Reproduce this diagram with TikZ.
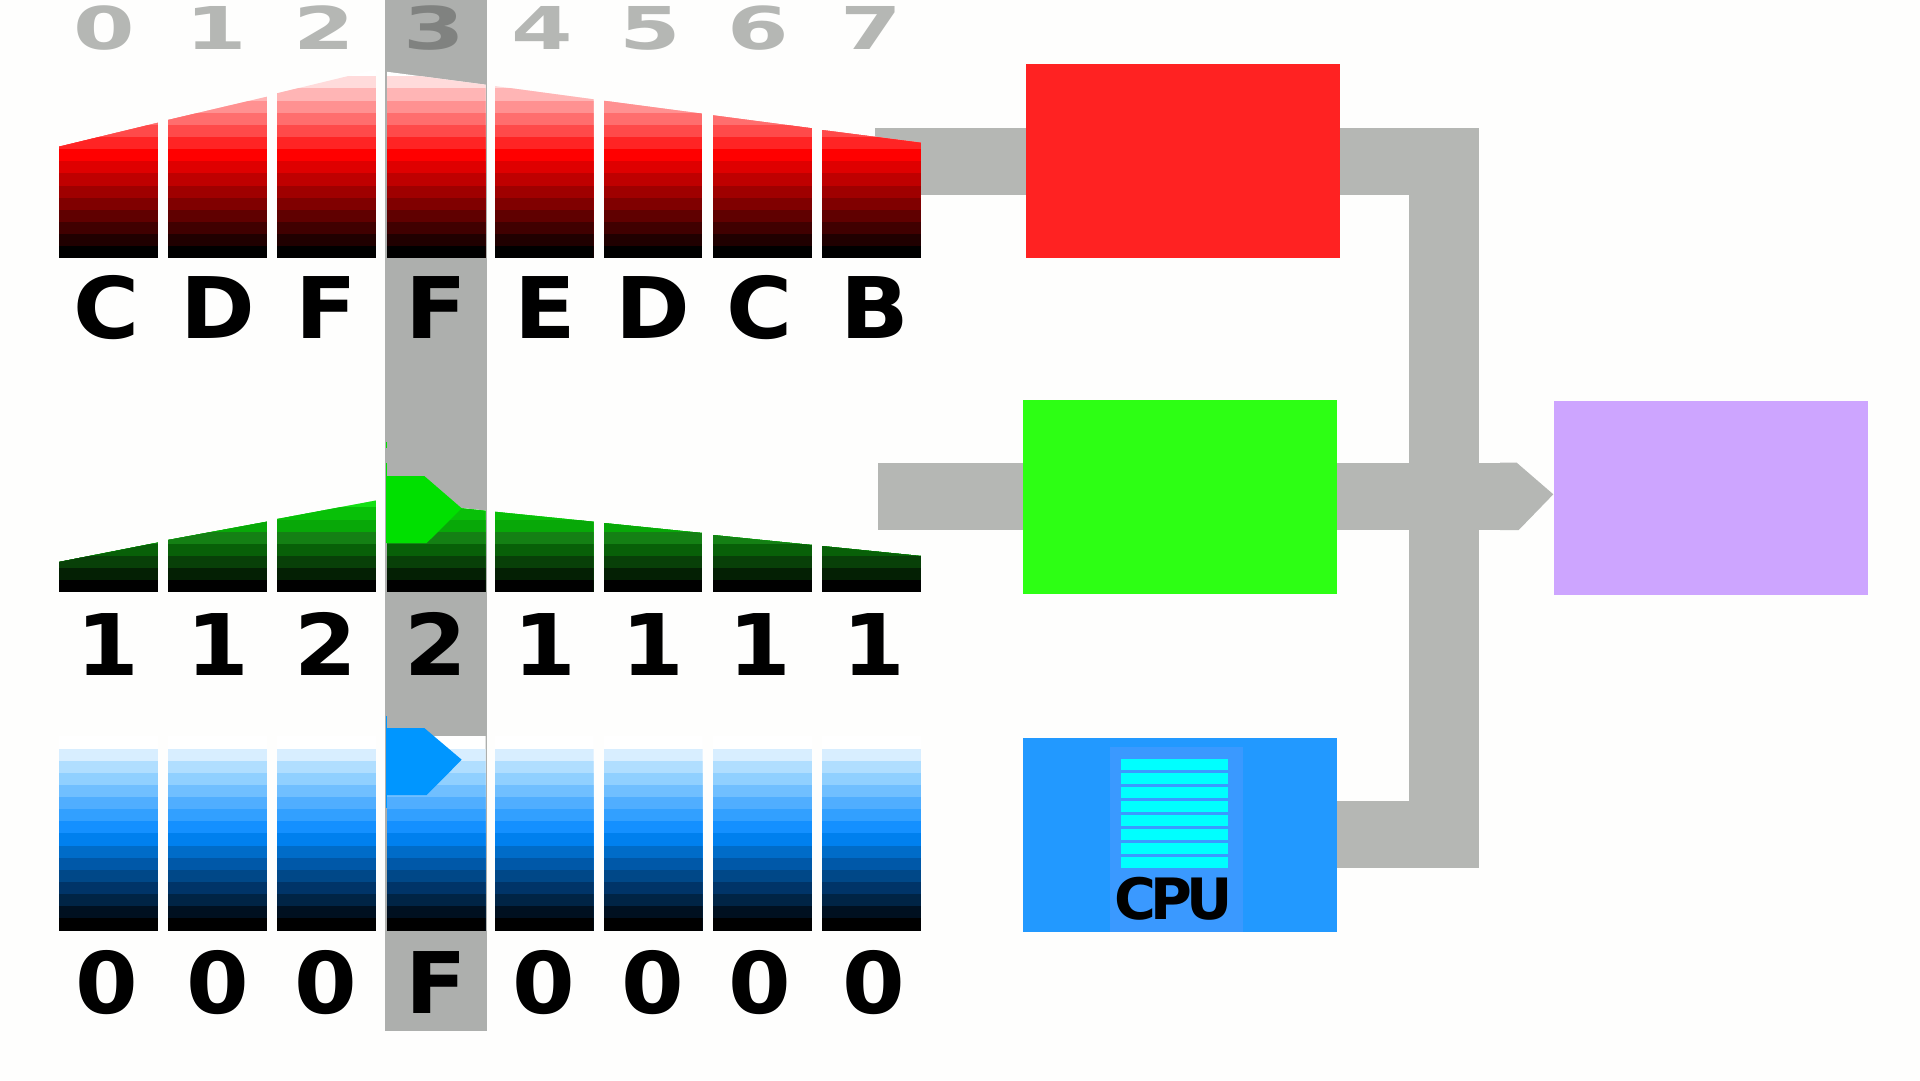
\documentclass[tikz,border=0pt]{standalone}
\usepackage{fontspec}
\setmainfont{DejaVu Sans}
\definecolor{pagebg}{HTML}{FEFEFD}
\definecolor{bandgrey}{HTML}{ADAFAD}
\definecolor{conngrey}{HTML}{B5B7B4}
\definecolor{idxdark}{HTML}{808280}
\definecolor{baseR}{HTML}{FF0000}
\definecolor{arrowG}{HTML}{00E000}
\definecolor{arrowB}{HTML}{0096FF}
\definecolor{boxR}{HTML}{FF2222}
\definecolor{boxG}{HTML}{2DFF14}
\definecolor{boxB}{HTML}{2299FF}
\definecolor{boxP}{HTML}{CDA5FF}
\definecolor{cpuPanel}{HTML}{3A99FF}
\definecolor{cpuLine}{HTML}{00FFFF}
% green palette
\definecolor{ga}{HTML}{14E014}\definecolor{gb}{HTML}{08C008}\definecolor{gc}{HTML}{08A808}
\definecolor{gd}{HTML}{148014}\definecolor{ge}{HTML}{086008}\definecolor{gf}{HTML}{084008}
\definecolor{gg}{HTML}{042004}
% blue palette
\definecolor{ba}{HTML}{D8EEFF}\definecolor{bb}{HTML}{B0DEFF}\definecolor{bc}{HTML}{90D0FF}
\definecolor{bd}{HTML}{70BFFF}\definecolor{be}{HTML}{50AEFF}\definecolor{bf}{HTML}{32A0FF}
\definecolor{bg}{HTML}{1490FF}\definecolor{bh}{HTML}{0080EE}\definecolor{bi}{HTML}{006CC8}
\definecolor{bj}{HTML}{0058A8}\definecolor{bk}{HTML}{004888}\definecolor{bl}{HTML}{003468}
\definecolor{bm}{HTML}{002445}\definecolor{bn}{HTML}{001020}
\newcommand{\palR}{white,baseR!14!white,baseR!29!white,baseR!43!white,baseR!57!white,baseR!71!white,baseR!86!white,baseR,baseR!87.5!black,baseR!75!black,baseR!62.5!black,baseR!50!black,baseR!37.5!black,baseR!25!black,baseR!12.5!black,black}
\newcommand{\palG}{white,white,white,white,white,white,white,ga!50!white,ga,gb,gc,gd,ge,gf,gg,black}
\newcommand{\palB}{white,ba,bb,bc,bd,be,bf,bg,bh,bi,bj,bk,bl,bm,bn,black}
\newcommand{\bandstack}[6]{% x0, x1, yleft, yright, ybottom, palette
  \begin{scope}
    \clip (#1,#3) -- (#2,#4) -- (#2,#5) -- (#1,#5) -- cycle;
    \foreach \col [count=\i from 0] in #6{
      \pgfmathsetmacro{\ytop}{#5-(16-\i)*12.13}
      \fill[\col] (#1,\ytop) rectangle (#2,#5);
    }
  \end{scope}
}
\tikzset{
  x=1pt,y=-1pt,
  conn/.style={draw=conngrey,line width=66.7pt,line cap=butt},
  box/.style={rectangle,inner sep=0pt,outer sep=0pt,minimum width=#1},
  hexlabel/.style={anchor=base,inner sep=0pt,font=\bfseries\fontsize{85}{85}\selectfont,text=black,xscale=1.06,transform shape},
  idxlabel/.style={anchor=base,inner sep=0pt,font=\bfseries\fontsize{59}{59}\selectfont,xscale=1.5,transform shape},
}
\begin{document}
\begin{tikzpicture}
\useasboundingbox (0,0) rectangle (1920,1080);
\fill[pagebg] (0,0) rectangle (1920,1080);
% highlighted column
\fill[bandgrey] (385,0) rectangle (487,1031);
% boxes
\node[box=314pt,minimum height=194.4pt,fill=boxR] (red) at (1183,161.2) {};
\node[box=314pt,minimum height=194pt,fill=boxG] (green) at (1180,497) {};
\node[box=314pt,minimum height=194pt,fill=boxB] (blue) at (1180,835) {};
\node[box=314pt,minimum height=194pt,fill=boxP] (purple) at (1711,498) {};
% connectors
\coordinate (redin) at (875,161.35);
\coordinate (greenin) at (878,496.35);
\coordinate (busTop) at (1444,128);
\coordinate (busBot) at (1444,868);
\coordinate (redout) at (1479,161.35);
\coordinate (blueout) at (1479,834.5);
\coordinate (headbase) at (1517,496.35);
\draw[conn] (redin) -- (redin -| red.west);
\draw[conn] (greenin) -- (greenin -| green.west);
\draw[conn] (redout -| red.east) -- (redout);
\draw[conn] (blueout -| blue.east) -- (blueout);
\draw[conn] (headbase -| green.east) -- (headbase);
\draw[conngrey,line width=70pt] (busTop) -- (busBot);
\fill[conngrey] (1500,462.7) -- (1516.7,462.7) -- (1553.3,494.3) -- (1518.7,530) -- (1500,530) -- cycle;
% red bars
\bandstack{58.8}{158}{146.7}{122.7}{258.3}{\palR}
\bandstack{167.8}{267}{120}{96.7}{258.3}{\palR}
\bandstack{277}{376}{93.3}{69.3}{258.3}{\palR}
\bandstack{386.5}{485.5}{71.7}{84.7}{258.3}{\palR}
\bandstack{494.7}{593.5}{86}{99.3}{258.3}{\palR}
\bandstack{604}{702.5}{100.7}{113.7}{258.3}{\palR}
\bandstack{713}{812}{115.3}{128.3}{258.3}{\palR}
\bandstack{822}{921}{130}{142.7}{258.3}{\palR}
% green bars
\bandstack{58.8}{158}{562}{542.5}{592.3}{\palG}
\bandstack{167.8}{267}{540}{521.6}{592.3}{\palG}
\bandstack{277}{376}{519}{500.5}{592.3}{\palG}
\bandstack{386.5}{485.5}{500.5}{510.7}{592.3}{\palG}
\bandstack{494.7}{593.5}{511.7}{521.7}{592.3}{\palG}
\bandstack{604}{702.5}{523}{533}{592.3}{\palG}
\bandstack{713}{812}{535}{545}{592.3}{\palG}
\bandstack{822}{921}{546}{556}{592.3}{\palG}
% blue bars
\bandstack{58.8}{158}{736.4}{736.4}{930.5}{\palB}
\bandstack{167.8}{267}{736.4}{736.4}{930.5}{\palB}
\bandstack{277}{376}{736.4}{736.4}{930.5}{\palB}
\bandstack{386.5}{485.5}{736.4}{736.4}{930.5}{\palB}
\bandstack{494.7}{593.5}{736.4}{736.4}{930.5}{\palB}
\bandstack{604}{702.5}{736.4}{736.4}{930.5}{\palB}
\bandstack{713}{812}{736.4}{736.4}{930.5}{\palB}
\bandstack{822}{921}{736.4}{736.4}{930.5}{\palB}
% column markers
\fill[arrowG] (386,476) -- (424.3,476) -- (461.7,508.3) -- (426.7,543) -- (386,543) -- cycle;
\fill[arrowG] (385.7,442) rectangle (387,447.7);
\fill[arrowG] (385.7,463) rectangle (387,476);
\fill[arrowB] (386,728) -- (424.3,728) -- (461.7,759.7) -- (426.7,795) -- (386,795) -- cycle;
\fill[arrowB] (385.7,715.7) rectangle (387,728);
\fill[arrowB] (385.7,795) rectangle (387,808);
% index row
\foreach \t/\xx [count=\n] in {0/104,1/216,2/324,4/542,5/650,6/758,7/871}
  \node[idxlabel,text=conngrey] (idx\n) at (\xx,49.5) {\t};
\node[idxlabel,text=idxdark] (idxthree) at (434,49.5) {3};
% hex rows
\foreach \t/\xx [count=\n] in {C/107,D/218,F/326,F/436,E/545,D/653,C/760,B/875}
  \node[hexlabel] (hr\n) at (\xx,338.3) {\t};
\foreach \t/\xx [count=\n] in {1/108,1/218,2/326,2/436,1/545,1/653,1/760,1/874}
  \node[hexlabel] (hg\n) at (\xx,675) {\t};
\foreach \t/\xx [count=\n] in {0/107,0/218,0/326,F/436,0/544,0/653,0/760,0/874}
  \node[hexlabel] (hb\n) at (\xx,1013) {\t};
% CPU
\fill[cpuPanel] (1110,747) rectangle (1243,932);
\foreach \yy in {759,773,787,801,815,829,843,857}
  \fill[cpuLine] (1121,\yy) rectangle (1228,\yy+11);
\node[anchor=base,inner sep=0pt,font=\bfseries\fontsize{57}{57}\selectfont,text=black] (cpu) at (1173.5,919) {C\kern-6pt P\kern-6pt U};
\end{tikzpicture}
\end{document}
